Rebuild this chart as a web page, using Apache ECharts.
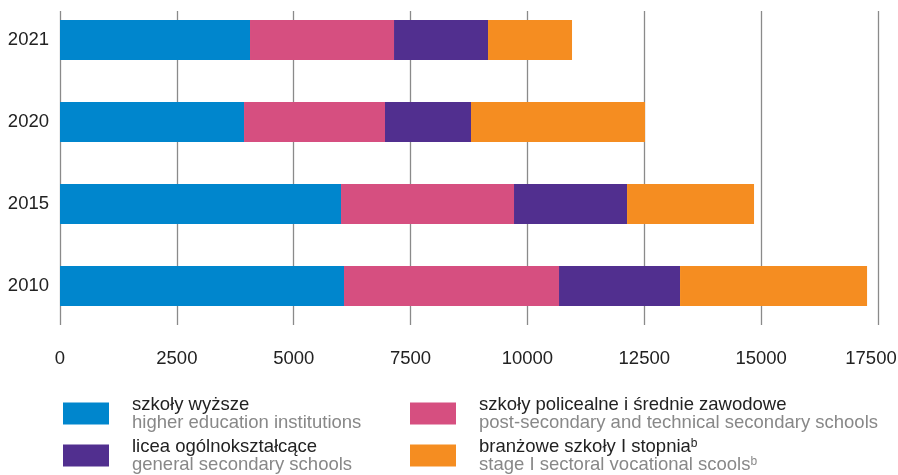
<!DOCTYPE html>
<html>
<head>
<meta charset="utf-8">
<script src="https://cdn.jsdelivr.net/npm/echarts@6/dist/echarts.min.js"></script>
<style>
html,body{margin:0;padding:0;background:#fff;}
#chart{width:898px;height:475px;}
</style>
</head>
<body>
<div id="chart"></div>
<script>
var categories = ['2010', '2015', '2020', '2021'];
var higherEdu = [6076, 6012, 3937, 4065];
var postSecondary = [4600, 3701, 3016, 3081];
var generalSecondary = [2589, 2418, 1840, 2011];
var vocational = [4001, 2717, 3723, 1797];
var xTicks = [0, 2500, 5000, 7500, 10000, 12500, 15000, 17500];

var names = {
  'szkoły wyższe': '{a|szkoły wyższe}\n{b|higher education institutions}',
  'szkoły policealne i średnie zawodowe': '{a|szkoły policealne i średnie zawodowe}\n{b|post-secondary and technical secondary schools}',
  'licea ogólnokształcące': '{a|licea ogólnokształcące}\n{b|general secondary schools}',
  'branżowe szkoły I stopnia': '{a|branżowe szkoły I stopnia}{sa|b}\n{b|stage I sectoral vocational scools}{sb|b}'
};
var colors = ['#0086CD', '#D64F80', '#512F8F', '#F58D21'];
var font = 'Liberation Sans, Arial, sans-serif';
var fs = 18.5;

var legendText = {
  fontFamily: font,
  padding: [0, 0, 0, 18],
  rich: {
    a: {fontSize: fs, color: '#222', lineHeight: 18, fontFamily: font},
    b: {fontSize: fs, color: '#888', lineHeight: 18, fontFamily: font},
    sa: {fontSize: 12, color: '#222', lineHeight: 12, verticalAlign: 'top', fontFamily: font},
    sb: {fontSize: 12, color: '#888', lineHeight: 12, verticalAlign: 'top', fontFamily: font}
  }
};

var chart = echarts.init(document.getElementById('chart'), null, {renderer: 'canvas'});
var option = {
  animation: false,
  color: colors,
  textStyle: {fontFamily: font},
  grid: [
    {left: 60, right: 20, top: 11, bottom: 150, outerBoundsMode: 'none', containLabel: false},
    {left: 60, right: 20, top: -1, bottom: 148, outerBoundsMode: 'none', containLabel: false}
  ],
  xAxis: [
    {
      gridIndex: 0, type: 'value', min: 0, max: 17500, interval: 2500,
      axisLine: {show: false}, axisTick: {show: false},
      splitLine: {show: true, lineStyle: {color: '#8a8a8a', width: 1.3}},
      axisLabel: {fontSize: fs, color: '#222', margin: 24, fontFamily: font,
        formatter: function (v) {
          if (xTicks.indexOf(v) < 0) return '';
          return v === 17500 ? '{r|' + v + '}' : String(v);
        },
        rich: {r: {fontSize: fs, color: '#222', fontFamily: font, padding: [0, 14, 0, 0]}}
      }
    },
    {
      gridIndex: 1, type: 'value', min: 0, max: 17500, interval: 2500, show: false
    }
  ],
  yAxis: [
    {gridIndex: 0, type: 'category', data: categories, show: false},
    {
      gridIndex: 1, type: 'category', data: categories,
      axisLine: {show: false}, axisTick: {show: false}, splitLine: {show: false},
      axisLabel: {fontSize: fs, color: '#222', margin: 11, fontFamily: font}
    }
  ],
  legend: [
    {
      left: 63, top: 395, orient: 'vertical', padding: 0, itemGap: 5,
      itemWidth: 46, itemHeight: 22, icon: 'rect', selectedMode: false,
      data: ['szkoły wyższe', 'licea ogólnokształcące'],
      formatter: function (n) { return names[n]; },
      textStyle: legendText
    },
    {
      left: 410, top: 395, orient: 'vertical', padding: 0, itemGap: 5,
      itemWidth: 46, itemHeight: 22, icon: 'rect', selectedMode: false,
      data: ['szkoły policealne i średnie zawodowe', 'branżowe szkoły I stopnia'],
      formatter: function (n) { return names[n]; },
      textStyle: legendText
    }
  ],
  series: [
    {name: 'szkoły wyższe', type: 'bar', stack: 't', xAxisIndex: 1, yAxisIndex: 1, barWidth: 40, data: higherEdu},
    {name: 'szkoły policealne i średnie zawodowe', type: 'bar', stack: 't', xAxisIndex: 1, yAxisIndex: 1, barWidth: 40, data: postSecondary},
    {name: 'licea ogólnokształcące', type: 'bar', stack: 't', xAxisIndex: 1, yAxisIndex: 1, barWidth: 40, data: generalSecondary},
    {name: 'branżowe szkoły I stopnia', type: 'bar', stack: 't', xAxisIndex: 1, yAxisIndex: 1, barWidth: 40, data: vocational}
  ]
};
chart.setOption(option);
</script>
</body>
</html>
